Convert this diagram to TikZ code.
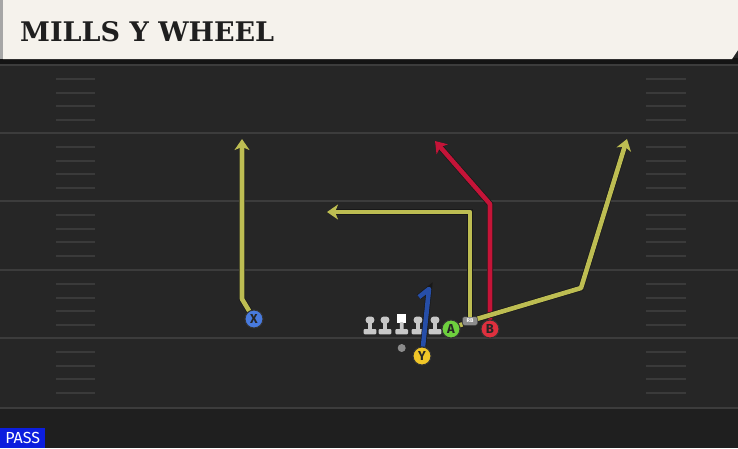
\documentclass[tikz,border=0pt]{standalone}
\usepackage{fontspec}
\usepackage{xcolor}
\usepackage{tikz}
\usetikzlibrary{positioning,calc,arrows.meta}
\newfontfamily\titlefont{DejaVu Serif}
\newfontfamily\labelfont{Fira Sans}

\definecolor{fieldbg}{RGB}{38,38,38}
\definecolor{yardcol}{RGB}{60,60,60}
\definecolor{hashcol}{RGB}{58,58,58}
\definecolor{headercol}{RGB}{245,242,236}
\definecolor{routeyellow}{RGB}{189,189,82}
\definecolor{routered}{RGB}{196,20,56}
\definecolor{routeblue}{RGB}{38,78,168}
\definecolor{xblue}{RGB}{72,122,222}
\definecolor{yyellow}{RGB}{240,198,40}
\definecolor{agreen}{RGB}{110,208,62}
\definecolor{bred}{RGB}{222,48,62}
\definecolor{passblue}{RGB}{12,30,222}
\definecolor{linegray}{RGB}{200,200,200}

\tikzset{
  player/.style={circle,draw=black!80,line width=1pt,fill=#1,minimum size=18pt,inner sep=0pt,
    font=\labelfont\fontsize{13}{13}\selectfont\bfseries,text=black!85},
  route/.style={line width=4.6pt,draw=#1,line join=round,
    preaction={draw=black!90,line width=6pt}},
  tip/.style={-{Stealth[length=11pt,width=15pt,inset=3pt]}},
  yard/.style={draw=yardcol,line width=2pt},
  hash/.style={draw=hashcol,line width=1.6pt},
  lineman/.style={fill=linegray,rounded corners=1pt}
}

\begin{document}
\begin{tikzpicture}[x=1pt,y=-1pt]
    \useasboundingbox (0,0) rectangle (738,448);
    % Field
    \fill[fieldbg] (0,0) rectangle (738,448);
    \fill[black!88] (0,408) rectangle (738,448);
    \foreach \yl in {65,133,201,270,338,408}
        \draw[yard] (0,\yl) -- (738,\yl);
    % Hash marks
    \foreach \yl in {65,133,201,270,338}
        \foreach \dy in {14,28,41,55} {
            \draw[hash] (56,\yl+\dy) -- (95,\yl+\dy);
            \draw[hash] (646,\yl+\dy) -- (686,\yl+\dy);
        }
    % Header
    \fill[black!92] (0,58) rectangle (738,64);
    \fill[headercol] (3,0) -- (738,0) -- (738,50) -- (732,59) -- (3,59) -- cycle;
    \fill[black!35] (0,0) rectangle (3,59);
    \node[anchor=west,inner sep=0pt,font=\titlefont\fontsize{27}{27}\selectfont\bfseries,text=black!88]
        (title) at (20,32) {MILLS Y WHEEL};
    % Pass tag
    \node[fill=passblue,anchor=south west,inner sep=0pt,minimum width=45pt,minimum height=20pt,
        font=\labelfont\fontsize{16}{16}\selectfont,text=white] (pass) at (0,448) {PASS};
    % Players
    \node[player=xblue] (X) at (254,319) {X};
    \node[player=yyellow] (Y) at (422,356) {Y};
    \node[player=agreen] (A) at (451,329) {A};
    \node[player=bred] (B) at (490,329) {B};
    \node[fill=black!45,draw=black!75,rounded corners=2pt,minimum width=15pt,minimum height=8.5pt,
        inner sep=0pt,font=\labelfont\fontsize{5.5}{5.5}\selectfont\bfseries,text=white] (RB) at (470,321) {RB};
    % Route points
    \coordinate (xTurn) at (242,299);
    \coordinate (xEnd) at (242,139);
    \coordinate (yTop) at (429,289);
    \coordinate (yHook) at (419,297);
    \coordinate (aTurn) at (471,212);
    \coordinate (aEnd) at (327,212);
    \coordinate (bTurn) at (490,204);
    \coordinate (bEnd) at (435,141);
    \coordinate (rbBend) at (581,288);
    \coordinate (rbEnd) at (627,139);
    % Routes
    \draw[route=routeyellow,tip] (X) -- (xTurn) -- (xEnd);
    \draw[route=routered,tip] (B) -- (bTurn) -- (bEnd);
    \draw[route=routeyellow] (A) -- (RB);
    \draw[route=routeyellow,tip] (RB) -- (RB|-aTurn) -- (aEnd);
    \draw[route=routeyellow,tip] (RB) -- (rbBend) -- (rbEnd);
    % Linemen
    \foreach \lx in {370,385,418,435} {
        \fill[lineman,rounded corners=3pt] (\lx-4.3,316.5) rectangle (\lx+4.3,323.5);
        \fill[lineman] (\lx-1.8,322) rectangle (\lx+1.8,330);
        \fill[lineman] (\lx-6.3,329) rectangle (\lx+6.3,334.3);
    }
    \fill[white] (397.3,314.3) rectangle (406.1,322.5);
    \fill[lineman] (399.9,322) rectangle (403.5,330);
    \fill[lineman] (395.4,329) rectangle (408,334.3);
    \fill[black!45] (401.7,348) circle (4);
    \draw[route=routeblue] (Y) -- (yTop) -- (yHook);
\end{tikzpicture}
\end{document}
